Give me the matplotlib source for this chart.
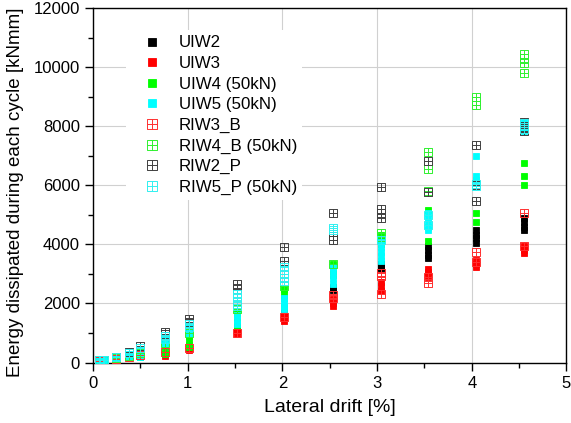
import matplotlib
matplotlib.use('Agg')
import matplotlib.pyplot as plt
from matplotlib.path import Path
from matplotlib.ticker import MultipleLocator

plt.rcParams['font.family'] = ['Liberation Sans', 'DejaVu Sans']

# drift levels [%] (columns of the plot)
drift = [0.06, 0.12, 0.24, 0.38, 0.50, 0.76, 1.01, 1.52, 2.02, 2.53, 3.04, 3.54, 4.05, 4.55]

# energy per cycle [kNmm], one list of cycle values per drift level
uiw2 = [[60], [80], [150], [250], [380], [700, 650], [1100, 1000], [1250, 1150], [1850, 1750],
        [2550, 2450], [3340, 3230, 3150], [3950, 3800, 3650, 3530], [4470, 4330, 4200, 4060],
        [4900, 4750, 4600, 4480]]
uiw3 = [[40], [60], [100], [150], [220], [300, 230], [520, 440], [1050, 950], [1620, 1500, 1420],
        [2150, 2020, 1920], [2720, 2580, 2430], [3170, 3050, 2900], [3480, 3350, 3230],
        [3950, 3800, 3700]]
uiw4 = [[50], [70], [130], [200], [250, 180], [550, 420, 300], [900, 750, 600, 520],
        [1700, 1550, 1400, 1250], [2480, 2350, 2200], [3350, 3150, 2950], [4300, 4150, 4000],
        [5150, 4110], [5070, 4770], [6740, 6320, 6010]]
uiw5 = [[80], [90], [160], [280, 200], [420, 300, 200], [850, 720, 600], [1250, 1100, 950],
        [1600, 1450, 1300], [2200, 2050, 1900, 1800], [3250, 3050, 2850, 2650],
        [4080, 3900, 3750, 3600, 3450], [5050, 4900, 4750, 4600, 4480], [6980, 6330, 6180],
        [8150, 7950, 7850]]
riw3_b = [[50], [70], [110], [180], [260], [350], [500], [1000], [1550], [2290, 2200],
          [3020, 2930, 2330], [2900, 2700], [3750, 3400], [5050, 3950]]
riw4_b = [[70], [80], [140], [230], [320], [650], [1000], [1800], [2600], [3350], [4370, 4250],
          [7110, 6550, 5800], [9000, 8850, 8730], [10450, 10300, 10130, 9800]]
riw2_p = [[], [], [190], [365], [560], [1040, 960], [1480, 1380], [2650, 2480], [3900, 3450],
          [5050, 4280, 4150], [5950, 5200, 5050, 4900], [6830, 5780], [7380, 6020, 5480],
          [8150, 7950, 7850]]
riw5_p = [[90], [100], [170], [320], [480], [900, 800], [1300, 1200], [2320, 2230, 1980, 1900],
          [3220, 3130, 2850, 2770], [4560, 4480], [4150], [5000, 4650], [6050, 5980],
          [8100, 7900]]

labels = ['UIW2', 'UIW3', 'UIW4 (50kN)', 'UIW5 (50kN)', 'RIW3_B', 'RIW4_B (50kN)', 'RIW2_P', 'RIW5_P (50kN)']
series = [uiw2, uiw3, uiw4, uiw5, riw3_b, riw4_b, riw2_p, riw5_p]
colors = ['#000000', '#ff0000', '#00ff00', '#00ffff', '#ff3030', '#30f030', '#404040', '#30f0f0']
filled = [True, True, True, True, False, False, False, False]

# square with a cross inside (open marker)
box_cross = Path([(-1, -1), (1, -1), (1, 1), (-1, 1), (-1, -1), (0, -1), (0, 1), (-1, 0), (1, 0)],
                 [Path.MOVETO, Path.LINETO, Path.LINETO, Path.LINETO, Path.CLOSEPOLY,
                  Path.MOVETO, Path.LINETO, Path.MOVETO, Path.LINETO])

fig = plt.figure(figsize=(5.71, 4.23), dpi=100)
ax = fig.add_axes([0.163, 0.143, 0.829, 0.838])

for vals, lab, col, fill in zip(series, labels, colors, filled):
    xs, ys = [], []
    for d, v in zip(drift, vals):
        xs += [d] * len(v)
        ys += v
    if fill:
        ax.plot(xs, ys, ls='none', marker='s', ms=5, mfc=col, mec=col, mew=0.6, label=lab, zorder=3)
    else:
        ax.plot(xs, ys, ls='none', marker=box_cross, ms=6, mfc='none', mec=col, mew=0.7, label=lab, zorder=3)

ax.set_xlim(0, 5)
ax.set_ylim(0, 12000)
ax.xaxis.set_major_locator(MultipleLocator(1))
ax.xaxis.set_minor_locator(MultipleLocator(0.5))
ax.yaxis.set_major_locator(MultipleLocator(2000))
ax.yaxis.set_minor_locator(MultipleLocator(1000))
ax.tick_params(which='major', direction='out', length=6, width=1, labelsize=12)
ax.tick_params(which='minor', direction='out', length=3.5, width=1)
ax.grid(True, which='major', color='#d0d0d0', lw=0.8, zorder=0)
ax.set_axisbelow(True)
for s in ax.spines.values():
    s.set_linewidth(1.0)

ax.set_xlabel('Lateral drift [%]', fontsize=14)
ax.set_ylabel('Energy dissipated during each cycle [kNmm]', fontsize=13.5)
ax.xaxis.set_label_coords(0.5, -0.104)
ax.yaxis.set_label_coords(-0.146, 0.48)

leg = ax.legend(loc='upper left', bbox_to_anchor=(0.07, 0.937), fontsize=12.2, frameon=True,
                fancybox=False, edgecolor='none', facecolor='white', framealpha=1,
                handlelength=2.5, handletextpad=0.3, labelspacing=0.33, borderpad=0.3,
                borderaxespad=0, numpoints=1, markerscale=1.1)
leg.set_zorder(2)

plt.savefig('out.png', dpi=100)
